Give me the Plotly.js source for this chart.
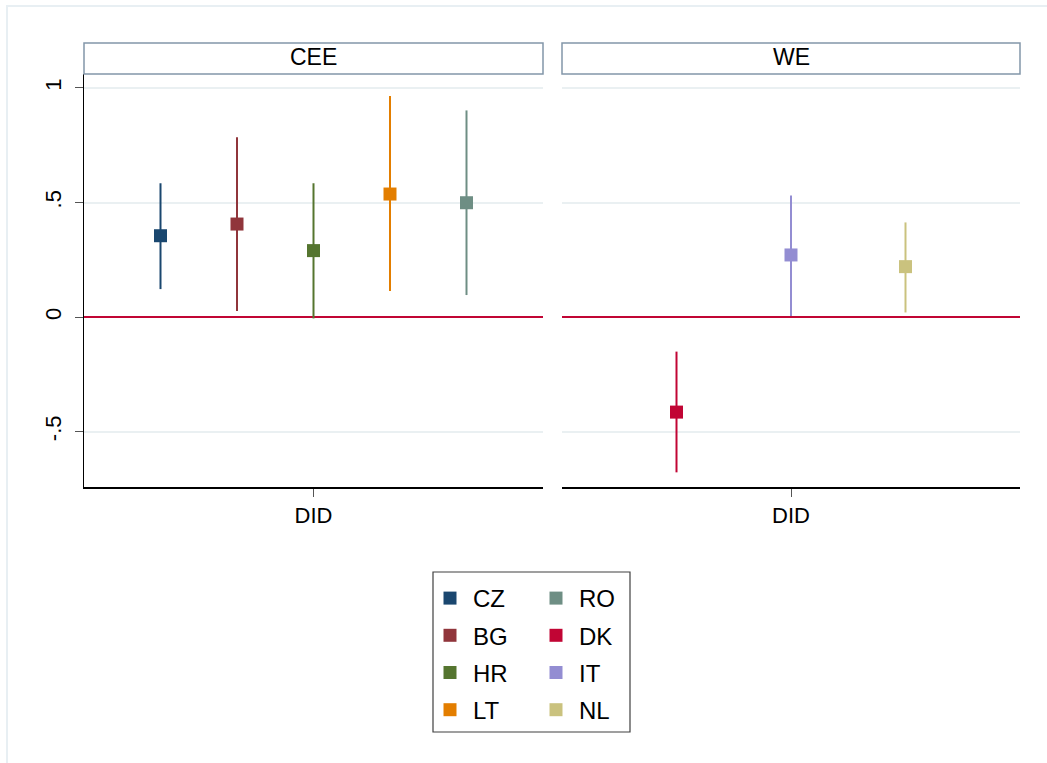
<!DOCTYPE html>
<html>
<head>
<meta charset="utf-8">
<script src="https://cdn.plot.ly/plotly-3.0.1.min.js"></script>
<style>
  html, body { margin: 0; padding: 0; background: #ffffff; }
  #chart { width: 1047px; height: 763px; }
</style>
</head>
<body>
<div id="chart"></div>
<script>
// DID coefficients with confidence intervals, by country and region
const countries = ['CZ', 'BG', 'HR', 'LT', 'RO', 'DK', 'IT', 'NL'];
const regions   = ['CEE', 'CEE', 'CEE', 'CEE', 'CEE', 'WE', 'WE', 'WE'];
const coef      = [0.355, 0.406, 0.290, 0.537, 0.499, -0.415, 0.271, 0.220];
const ciLow     = [0.122, 0.026, -0.006, 0.114, 0.096, -0.678, 0.004, 0.020];
const ciHigh    = [0.584, 0.785, 0.584, 0.965, 0.902, -0.151, 0.531, 0.413];
const colors    = ['#1a476f', '#90353b', '#55752f', '#e37e00', '#6e8e84', '#c10534', '#938dd2', '#cac27e'];
const panels    = ['CEE', 'WE'];
const xLabel    = 'DID';
const yTicks    = [1, 0.5, 0, -0.5];
const yTickText = ['1', '.5', '0', '-.5'];

const W = 1047, H = 763;
const px = x => x / W;
const py = y => 1 - y / H;
const FONT = 'Liberation Sans, Arial, sans-serif';

// number of series in each panel; series are spread evenly across the panel
const counts = panels.map(p => regions.filter(r => r === p).length);

const traces = [];
const seen = {};
countries.forEach((c, i) => {
  const p = panels.indexOf(regions[i]);
  seen[p] = (seen[p] || 0) + 1;
  traces.push({
    type: 'scatter',
    mode: 'markers',
    name: c,
    x: [seen[p]],
    y: [coef[i]],
    xaxis: p === 0 ? 'x' : 'x2',
    yaxis: p === 0 ? 'y' : 'y2',
    marker: { symbol: 'square', size: 13, color: colors[i], line: { width: 0 } },
    error_y: {
      type: 'data', symmetric: false,
      array: [ciHigh[i] - coef[i]],
      arrayminus: [coef[i] - ciLow[i]],
      color: colors[i], thickness: 2, width: 0
    },
    legend: i < 4 ? 'legend' : 'legend2',
    legendgroup: c,
    hoverinfo: 'x+y'
  });
});

const yDomain = [py(487), py(74)];
const yRange = [-0.742, 1.061];

const commonY = {
  domain: yDomain, range: yRange,
  tickvals: yTicks, ticktext: yTickText,
  showgrid: true, gridcolor: '#eaf0f2', gridwidth: 2,
  zeroline: true, zerolinecolor: '#c10534', zerolinewidth: 2,
  fixedrange: true
};

const commonX = (p) => ({
  range: [0, counts[p] + 1],
  tickvals: [(counts[p] + 1) / 2], ticktext: [xLabel],
  showgrid: false, zeroline: false,
  showline: true, linecolor: '#000000', linewidth: 1.5,
  ticks: 'outside', ticklen: 8, tickcolor: '#555555', tickwidth: 1,
  tickfont: { family: FONT, size: 22, color: '#000000' },
  fixedrange: true
});

const panelBoxes = [[84, 543], [562, 1020]];

const shapes = [];
const annotations = [];
panels.forEach((p, k) => {
  const [x0, x1] = panelBoxes[k];
  shapes.push({
    type: 'rect', xref: 'paper', yref: 'paper',
    x0: px(x0), x1: px(x1), y0: py(74), y1: py(43),
    line: { color: '#8396a9', width: 1.5 }, fillcolor: '#ffffff', layer: 'above'
  });
  annotations.push({
    xref: 'paper', yref: 'paper',
    x: px((x0 + x1) / 2), y: py(57),
    xanchor: 'center', yanchor: 'middle',
    text: p, showarrow: false,
    font: { family: FONT, size: 23, color: '#000000' }
  });
});

// legend frame
shapes.push({
  type: 'rect', xref: 'paper', yref: 'paper',
  x0: px(433), x1: px(630), y0: py(732), y1: py(572),
  line: { color: '#404040', width: 1.2 }, fillcolor: 'rgba(0,0,0,0)'
});
// outer graph-region frame
shapes.push({
  type: 'path', xref: 'paper', yref: 'paper',
  path: `M ${px(7)} ${py(763)} L ${px(7)} ${py(6)} L ${px(1047)} ${py(6)}`,
  line: { color: '#e8eff3', width: 2 }
});

const legendCommon = {
  bgcolor: 'rgba(0,0,0,0)', borderwidth: 0,
  font: { family: FONT, size: 24, color: '#000000' },
  xanchor: 'left', yanchor: 'top',
  traceorder: 'grouped', tracegroupgap: 3,
  itemwidth: 36,
  itemclick: false, itemdoubleclick: false
};

const layout = {
  width: W, height: H, autosize: false,
  margin: { l: 0, r: 0, t: 0, b: 0 },
  paper_bgcolor: '#ffffff', plot_bgcolor: '#ffffff',
  showlegend: true,
  xaxis: Object.assign({ domain: [px(84), px(543)], anchor: 'y' }, commonX(0)),
  xaxis2: Object.assign({ domain: [px(562), px(1020)], anchor: 'y2' }, commonX(1)),
  yaxis: Object.assign({}, commonY, {
    anchor: 'x',
    showline: true, linecolor: '#000000', linewidth: 1.5,
    ticks: 'outside', ticklen: 8, tickcolor: '#555555', tickwidth: 1,
    tickangle: -90, ticklabelstandoff: 5,
    tickfont: { family: FONT, size: 22, color: '#000000' }
  }),
  yaxis2: Object.assign({}, commonY, {
    anchor: 'x2', matches: 'y',
    showline: false, ticks: '', showticklabels: false
  }),
  legend: Object.assign({ x: px(427), y: py(576) }, legendCommon),
  legend2: Object.assign({ x: px(533), y: py(576) }, legendCommon),
  shapes: shapes,
  annotations: annotations
};

Plotly.newPlot('chart', traces, layout, { displayModeBar: false, staticPlot: true });
</script>
</body>
</html>
